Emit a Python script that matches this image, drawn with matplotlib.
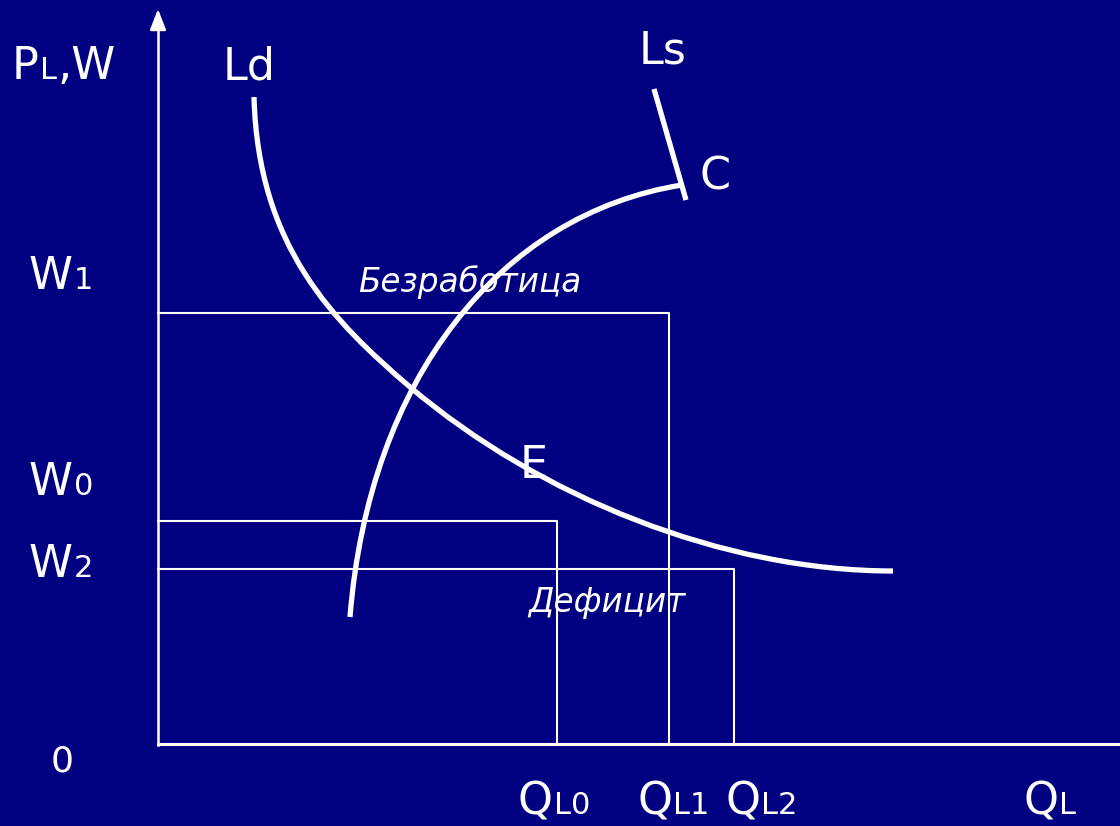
import matplotlib
matplotlib.use('Agg')
import matplotlib.pyplot as plt
from matplotlib.path import Path
from matplotlib.patches import PathPatch

# picture coordinates (pixels, y grows downward)
# Ld: two cubic bezier pieces, Ls: one cubic piece
ld_ctrl_x = [254, 258, 334, 410, 540, 723, 893]
ld_ctrl_y = [97, 247, 322, 387, 497, 571, 571]
ls_ctrl_x = [350, 369, 500, 682]
ls_ctrl_y = [617, 379, 214, 185]
ls_top_x = [654, 686]
ls_top_y = [89, 200]

w_names = ['W1', 'W0', 'W2']
w_y = [313, 521, 569]
q_x = [669, 557, 734]

bg = '#000080'
fig = plt.figure(figsize=(11.2, 8.26), dpi=100, facecolor=bg)
ax = fig.add_axes([0, 0, 1, 1])
ax.set_facecolor(bg)
ax.set_xlim(0, 1120)
ax.set_ylim(826, 0)
ax.axis('off')

font = 'DejaVu Sans'

# axes
ax.plot([158, 158], [745, 20], color='white', lw=1.8)
ax.annotate('', xy=(158, 9), xytext=(158, 24),
            arrowprops=dict(arrowstyle='-|>,head_length=0.9,head_width=0.35',
                            color='white', lw=1.8, mutation_scale=14,
                            shrinkA=0, shrinkB=0))
ax.plot([158, 1120], [744, 744], color='white', lw=2.2)

# wage level boxes
for y, x in zip(w_y, q_x):
    ax.plot([158, x, x], [y, y, 744], color='white', lw=1.5)


def bezier(xs, ys):
    verts = list(zip(xs, ys))
    codes = [Path.MOVETO] + [Path.CURVE4] * (len(verts) - 1)
    return PathPatch(Path(verts, codes), facecolor='none', edgecolor='white',
                     lw=3.8, capstyle='butt')


ax.add_patch(bezier(ld_ctrl_x, ld_ctrl_y))
ax.add_patch(bezier(ls_ctrl_x, ls_ctrl_y))
ax.plot(ls_top_x, ls_top_y, color='white', lw=3.8, solid_capstyle='butt')

fig.canvas.draw()
renderer = fig.canvas.get_renderer()


def label(x, y, parts):
    # parts: list of (text, fontsize), placed one after another on a baseline
    for s, size in parts:
        t = ax.text(x, y, s, color='white', fontsize=size, family=font,
                    ha='left', va='baseline')
        bb = t.get_window_extent(renderer=renderer)
        x = ax.transData.inverted().transform((bb.x1, bb.y0))[0] + 1


big, sub = 32, 22
label(12, 79, [('P', big), ('L', sub), (',W', big)])
label(223, 79, [('Ld', big)])
label(639, 64, [('Ls', big)])
label(700, 190, [('C', big)])
label(29, 289, [('W', big), ('1', sub)])
label(29, 495, [('W', big), ('0', sub)])
label(29, 577, [('W', big), ('2', sub)])
label(520, 478, [('E', big)])
label(51, 771, [('0', 26)])
label(518, 814, [('Q', big), ('L0', sub)])
label(637, 814, [('Q', big), ('L1', sub)])
label(725, 814, [('Q', big), ('L2', sub)])
label(1023, 814, [('Q', big), ('L', sub)])

ax.text(470, 292, 'Безработица', color='white', fontsize=23.5, family=font,
        style='italic', ha='center', va='baseline')
ax.text(607, 612, 'Дефицит', color='white', fontsize=23.5, family=font,
        style='italic', ha='center', va='baseline')

fig.savefig('out.png', dpi=100, facecolor=bg)
